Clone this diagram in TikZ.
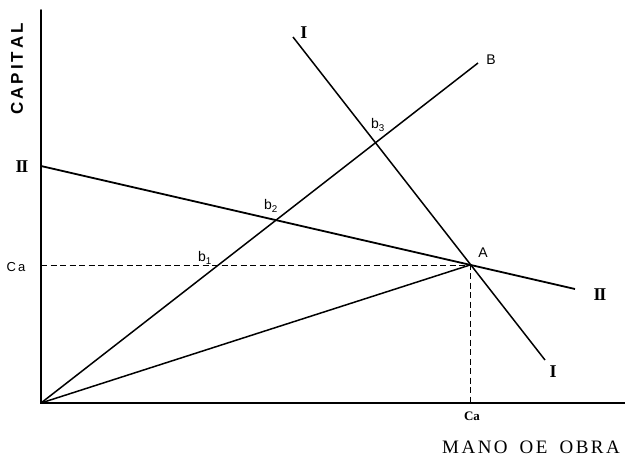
\documentclass[tikz,border=0pt]{standalone}
\usepackage{fontspec}
\setmainfont{Liberation Serif}
\setsansfont{Liberation Sans}
\begin{document}
\begin{tikzpicture}[x=1pt,y=-1pt,
  axis/.style={line width=2pt, line cap=round},
  curve/.style={line width=1.5pt},
  guide/.style={line width=1pt, dash pattern=on 6pt off 3.5pt},
  lbl/.style={font=\sffamily\fontsize{14}{14}\selectfont, inner sep=0pt},
  roman/.style={font=\rmfamily\bfseries\fontsize{18}{18}\selectfont, inner sep=0pt},
  ser/.style={font=\rmfamily\fontsize{13}{13}\selectfont, inner sep=0pt}]
\useasboundingbox (0,0) rectangle (625,456);
\coordinate (O) at (41,403);
\coordinate (Ytop) at (41,10);
\coordinate (Xend) at (625,403);
\coordinate (Itop) at (293,37);
\coordinate (Ibot) at (545,360);
\coordinate (Bend) at (478,63);
\coordinate (IIl) at (41,166);
\coordinate (IIr) at (575,289);
\coordinate (A) at (470,265);
\coordinate (CaL) at (41,265);
\coordinate (CaB) at (470,403);

\draw[axis] (Ytop) -- (O) -- (Xend);
\draw[curve] (Itop) -- (Ibot);
\draw[curve] (O) -- (Bend);
\draw[curve, line width=1.8pt] (IIl) -- (IIr);
\draw[curve] (O) -- (A);
\draw[guide] (CaL) -- (A) -- (CaB);

\node[roman] (lIt) at (304,33) {I};
\node[roman] (lIb) at (553,372) {I};
\node[roman] (lIIl) at (22,167) {I\kern-1.2pt I};
\node[roman] (lIIr) at (600,295) {I\kern-1.2pt I};
\node[lbl] (lB) at (491,60) {B};
\node[lbl] (lA) at (483,253) {A};
\node[lbl] (lb1) at (205,258) {b\textsubscript{1}};
\node[lbl] (lb2) at (271,206) {b\textsubscript{2}};
\node[lbl] (lb3) at (378,125) {b\textsubscript{3}};
\node[lbl, font=\sffamily\fontsize{13}{13}\selectfont] (lCa) at (16,267) {C\,a};
\node[ser, font=\rmfamily\bfseries\fontsize{13}{13}\selectfont] (lCab) at (472,416) {Ca};
\node[ser, font=\rmfamily\fontsize{19}{19}\selectfont] (mano) at (531,447)
  {M\kern2.5pt A\kern2.5pt N\kern2.5pt O\hspace{12pt}O\kern2.5pt E\hspace{12pt}O\kern2.5pt B\kern2.5pt R\kern2.5pt A};
\node[rotate=90, inner sep=0pt, font=\sffamily\bfseries\fontsize{17}{17}\selectfont] (cap) at (17,69)
  {C\kern3pt A\kern3pt P\kern3pt I\kern3pt T\kern3pt A\kern3pt L};
\end{tikzpicture}
\end{document}
